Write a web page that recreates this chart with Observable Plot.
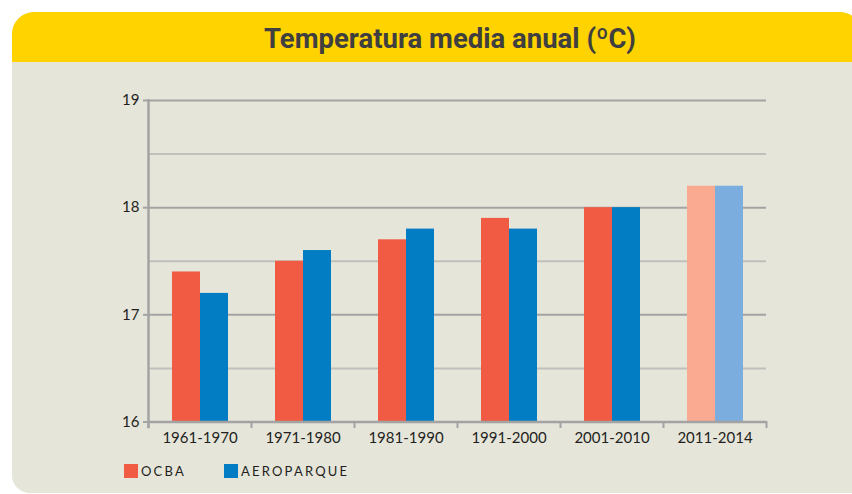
<!DOCTYPE html>
<html>
<head>
<meta charset="utf-8">
<script src="https://cdn.jsdelivr.net/npm/d3@7"></script>
<script src="https://cdn.jsdelivr.net/npm/@observablehq/plot@0.6"></script>
<style>
  html, body { margin: 0; padding: 0; background: #ffffff; width: 852px; height: 494px; overflow: hidden; }
  #panel { position: absolute; left: 12px; top: 12px; width: 850px; height: 481px; border-radius: 22px 22px 0 18px; background: #E6E5DA; overflow: hidden; }
  #header { position: absolute; left: 0; top: 0; width: 100%; height: 50px; background: #FFD300; }
  #title { position: absolute; left: 200px; top: 22px; width: 500px; text-align: center; font-family: Roboto, sans-serif; font-weight: 700; font-size: 27.5px; color: #3F3F3F; line-height: 34px; }
  #chart { position: absolute; left: 0; top: 70px; }
  #legend { position: absolute; left: 124px; top: 463px; font-family: Lato, sans-serif; font-size: 13px; color: #231F20; letter-spacing: 2.2px; display: flex; align-items: center; }
  .item { display: flex; align-items: center; margin-right: 38px; }
  .sw { width: 14px; height: 14px; margin-right: 3px; }
</style>
</head>
<body>
<div id="panel"><div id="header"></div></div>
<div id="title">Temperatura media anual (ºC)</div>
<div id="chart"></div>
<div id="legend"></div>
<script>
// ---- data ----
const periods = ["1961-1970", "1971-1980", "1981-1990", "1991-2000", "2001-2010", "2011-2014"];
const seriesNames = ["OCBA", "AEROPARQUE"];
const ocba = [17.4, 17.5, 17.7, 17.9, 18.0, 18.2];
const aeroparque = [17.2, 17.6, 17.8, 17.8, 18.0, 18.2];
const partialPeriods = ["2011-2014"];
const colorKeys = ["OCBA", "AEROPARQUE", "OCBA parcial", "AEROPARQUE parcial"];
const colorRange = ["#F15A43", "#027CC3", "#F9AA90", "#7BADDF"];
const yMajorTicks = [16, 17, 18, 19];
const yMinorTicks = [16.5, 17.5, 18.5];

// ---- table ----
const valuesBySeries = {OCBA: ocba, AEROPARQUE: aeroparque};
const rows = [];
periods.forEach((p, i) => {
  seriesNames.forEach(s => {
    rows.push({
      period: p,
      series: s,
      value: valuesBySeries[s][i],
      key: partialPeriods.includes(p) ? s + " parcial" : s
    });
  });
});

const W = 852, H = 382, mT = 30, mB = 30.5, mL = 147, mR = 85;
const plotH = H - mT - mB;
const axisGray = "#A3A3A3";

const chart = Plot.plot({
  width: W,
  height: H,
  marginLeft: mL,
  marginRight: mR,
  marginTop: mT,
  marginBottom: mB,
  style: {background: "transparent", fontFamily: "Lato, sans-serif", fontSize: "15px", color: "#231F20", overflow: "visible"},
  fx: {domain: periods, padding: 0, label: null, axis: null},
  x: {domain: seriesNames, paddingInner: 0, paddingOuter: 0.78, axis: null},
  y: {domain: [16, 19], axis: null},
  color: {domain: colorKeys, range: colorRange},
  marks: [
    Plot.ruleY(yMinorTicks, {stroke: "#BFBFBB", strokeWidth: 2}),
    Plot.ruleY(yMajorTicks.slice(1), {stroke: axisGray, strokeWidth: 2}),
    Plot.barY(rows, {fx: "period", x: "series", y1: 16, y2: "value", fill: "key"}),
    Plot.ruleY([16], {stroke: axisGray, strokeWidth: 2.5}),
    Plot.frame({anchor: "left", insetTop: plotH, insetBottom: -5, stroke: axisGray, strokeWidth: 2}),
    Plot.frame({anchor: "right", facet: "super", insetTop: plotH, insetBottom: -5, stroke: axisGray, strokeWidth: 2}),
    Plot.frame({anchor: "left", facet: "super", insetBottom: -5, stroke: axisGray, strokeWidth: 2.5}),
    Plot.axisY({ticks: yMajorTicks, tickFormat: d3.format("d"), tickSize: 5, tickPadding: 4, stroke: axisGray, fill: "#231F20", strokeWidth: 2, label: null, fontSize: 15}),
    Plot.axisFx({anchor: "bottom", tickSize: 0, tickPadding: 10, label: null, fill: "#231F20", fontSize: 15})
  ]
});
document.getElementById("chart").appendChild(chart);

// ---- legend ----
const legend = document.getElementById("legend");
seriesNames.forEach((s, i) => {
  const item = document.createElement("div");
  item.className = "item";
  const sw = document.createElement("div");
  sw.className = "sw";
  sw.style.background = colorRange[i];
  const t = document.createElement("span");
  t.textContent = s;
  item.appendChild(sw);
  item.appendChild(t);
  legend.appendChild(item);
});
</script>
</body>
</html>
